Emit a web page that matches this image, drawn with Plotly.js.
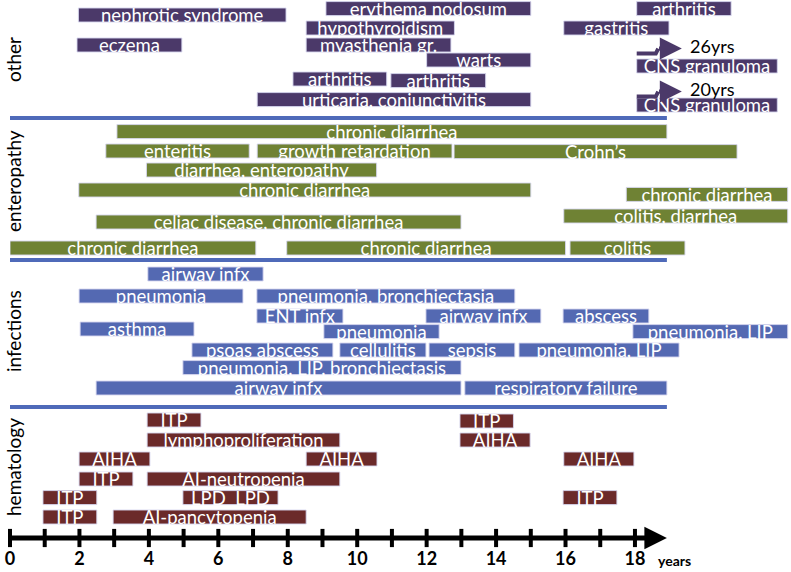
<!DOCTYPE html>
<html>
<head>
<meta charset="utf-8">
<script src="https://cdn.plot.ly/plotly-3.0.1.min.js"></script>
<style>html,body{margin:0;padding:0;background:#fff;}#chart{width:791px;height:572px;}</style>
</head>
<body>
<div id="chart"></div>
<script>
// ---------- DATA ----------
const otherLabels = ['erythema nodosum','arthritis','nephrotic syndrome','hypothyroidism','gastritis','eczema','myasthenia gr.','warts','CNS granuloma','arthritis','arthritis','urticaria, conjunctivitis','CNS granuloma'];
const otherStart  = [9.1, 18.05, 1.97, 8.53, 15.95, 1.93, 8.53, 12.0, 18.05, 8.15, 10.97, 7.12, 18.05];
const otherEnd    = [15.0, 20.77, 7.95, 12.8, 18.98, 4.95, 12.7, 15.0, 22.1, 10.85, 13.7, 15.0, 22.1];
const otherLane   = [0.43, 0.43, 0.75, 1.4, 1.4, 2.25, 2.25, 3.0, 3.3, 3.95, 4.03, 4.98, 5.25];

const enteroLabels = ['chronic diarrhea','enteritis','growth retardation','Crohn\u2019s','diarrhea, enteropathy','chronic diarrhea','chronic diarrhea','colitis, diarrhea','celiac disease, chronic diarrhea','chronic diarrhea','chronic diarrhea','colitis'];
const enteroStart  = [3.08, 2.76, 7.12, 12.79, 3.93, 1.98, 17.75, 15.95, 2.48, 0.0, 7.97, 16.13];
const enteroEnd    = [18.92, 6.89, 12.73, 20.94, 10.56, 15.0, 22.4, 22.4, 12.99, 7.08, 16.0, 19.44];
const enteroLane   = [6.58, 7.55, 7.55, 7.58, 8.5, 9.5, 9.72, 10.8, 11.1, 12.4, 12.4, 12.4];

const infLabels = ['airway infx','pneumonia','pneumonia, bronchiectasia','ENT infx','airway infx','abscess','asthma','pneumonia','pneumonia, LIP','psoas abscess','cellulitis','sepsis','pneumonia, LIP','pneumonia, LIP, bronchiectasis','airway infx','respiratory failure'];
const infStart  = [3.97, 1.99, 7.11, 7.11, 11.98, 15.93, 2.02, 9.04, 17.94, 5.24, 9.5, 12.07, 14.66, 4.98, 2.48, 13.1];
const infEnd    = [7.29, 6.71, 14.54, 9.59, 15.29, 18.4, 5.3, 12.36, 22.4, 9.3, 11.98, 14.54, 19.27, 12.99, 12.99, 18.92];
const infLane   = [13.7, 14.8, 14.8, 15.8, 15.8, 15.8, 16.45, 16.58, 16.58, 17.5, 17.5, 17.5, 17.5, 18.38, 19.4, 19.4];

const hemLabels = ['ITP','ITP','lymphoproliferation','AIHA','AIHA','AIHA','AIHA','ITP','AI-neutropenia','ITP','LPD  LPD','ITP','ITP','AI-pancytopenia'];
const hemStart  = [3.95, 12.96, 3.95, 12.96, 1.99, 8.53, 15.95, 1.99, 3.95, 0.95, 4.98, 15.93, 0.95, 2.97];
const hemEnd    = [5.5, 14.5, 9.5, 14.98, 4.03, 10.57, 17.97, 3.54, 9.5, 2.5, 7.72, 17.48, 2.5, 8.53];
const hemLane   = [21.0, 21.05, 22.0, 22.0, 22.95, 22.95, 22.95, 23.95, 23.95, 24.88, 24.88, 24.88, 25.85, 25.85];

const sectionNames = ['other','enteropathy','infections','hematology'];
const onsetNotes = ['26yrs','20yrs'];          // CNS granuloma onset notes
const tickYears = [0,1,2,3,4,5,6,7,8,9,10,11,12,13,14,15,16,17,18];
const tickLabelYears = [0,2,4,6,8,10,12,14,16,18];

// ---------- LAYOUT CONSTANTS ----------
const PX_PER_YEAR = 34.72;
const XMAX = 781 / PX_PER_YEAR;
const ROW = 20; // px per y-unit
const YMAX = 572 / ROW;
const AXIS_END = 18.92;
const AXIS_Y = 26.9;
const LABEL_Y = 28.0;
const SEP_Y = [5.9, 13.0, 20.35];
const SEC_LABEL_Y = [3.0, 9.05, 16.55, 23.35];
const FONT = 'Lato, "Open Sans", sans-serif';

const colors = {
  other: '#4b3969',
  entero: '#6f8234',
  inf: '#5469b2',
  hem: '#6b2a2a',
  sep: '#4f6ab9'
};

const traces = [];
function addSection(labels, start, end, lane, color) {
  traces.push({
    type: 'bar', orientation: 'h',
    base: start,
    x: start.map((s, i) => end[i] - s),
    y: lane,
    width: 0.7,
    marker: {color: color, line: {color: 'rgba(215,215,240,0.9)', width: 1}},
    hoverinfo: 'skip', showlegend: false
  });
  traces.push({
    type: 'scatter', mode: 'text',
    x: start.map((s, i) => (s + end[i]) / 2),
    y: lane.map(v => v + 0.14),
    text: labels,
    textposition: 'middle center',
    textfont: {family: FONT, size: 18.5, color: '#ffffff'},
    cliponaxis: false, hoverinfo: 'skip', showlegend: false
  });
}
addSection(otherLabels, otherStart, otherEnd, otherLane, colors.other);
addSection(enteroLabels, enteroStart, enteroEnd, enteroLane, colors.entero);
addSection(infLabels, infStart, infEnd, infLane, colors.inf);
addSection(hemLabels, hemStart, hemEnd, hemLane, colors.hem);

// separator lines
SEP_Y.forEach(y => {
  traces.push({type: 'scatter', mode: 'lines', x: [0, AXIS_END], y: [y, y],
    line: {color: colors.sep, width: 4}, hoverinfo: 'skip', showlegend: false});
});

// step arrows for CNS granuloma onset
const cnsIdx = otherLabels.map((l, i) => l === 'CNS granuloma' ? i : -1).filter(i => i >= 0);
const annotations = [];
cnsIdx.forEach((idx, k) => {
  const x0 = otherStart[idx];
  const yl = otherLane[idx] - (k === 0 ? 0.62 : 0.42);
  const yu = yl - 0.25;
  traces.push({type: 'scatter', mode: 'lines', x: [x0, x0 + 0.55, x0 + 0.62], y: [yl, yl, yu],
    line: {color: colors.other, width: 4}, hoverinfo: 'skip', showlegend: false});
  annotations.push({x: x0 + 1.3, y: yu, ax: x0 + 0.6, ay: yu, xref: 'x', yref: 'y', axref: 'x', ayref: 'y',
    showarrow: true, arrowhead: 2, arrowsize: 1.1, arrowwidth: 4, arrowcolor: colors.other, text: ''});
  annotations.push({x: x0 + 1.47, y: yu - 0.12, xref: 'x', yref: 'y', text: onsetNotes[k], showarrow: false,
    xanchor: 'left', yanchor: 'middle', font: {family: FONT, size: 18, color: '#000'}});
});

// time axis
annotations.push({x: AXIS_END, y: AXIS_Y, ax: 0, ay: AXIS_Y, xref: 'x', yref: 'y', axref: 'x', ayref: 'y',
  showarrow: true, arrowhead: 2, arrowsize: 0.9, arrowwidth: 5, arrowcolor: '#000', text: ''});
traces.push({type: 'scatter', mode: 'markers', x: tickYears, y: tickYears.map(() => AXIS_Y),
  marker: {symbol: 'line-ns', size: 13, line: {color: '#000', width: 4}}, hoverinfo: 'skip', showlegend: false, cliponaxis: false});
traces.push({type: 'scatter', mode: 'text', x: tickLabelYears, y: tickLabelYears.map(() => LABEL_Y),
  text: tickLabelYears.map(v => '<b>' + v + '</b>'), textposition: 'middle center',
  textfont: {family: FONT, size: 18, color: '#000'}, hoverinfo: 'skip', showlegend: false, cliponaxis: false});
annotations.push({x: tickLabelYears[tickLabelYears.length - 1] + 0.6, y: LABEL_Y, xref: 'x', yref: 'y', text: '<b>years</b>',
  showarrow: false, xanchor: 'left', yanchor: 'middle', font: {family: FONT, size: 14, color: '#000'}});

// section labels
sectionNames.forEach((n, i) => {
  annotations.push({x: 0, xref: 'paper', xshift: 3, y: SEC_LABEL_Y[i], yref: 'y', text: n, textangle: -90,
    showarrow: false, xanchor: 'center', yanchor: 'middle', font: {family: FONT, size: 19, color: '#000'}});
});

const layout = {
  width: 791, height: 572,
  margin: {l: 10, r: 0, t: 0, b: 0},
  paper_bgcolor: '#fff', plot_bgcolor: '#fff',
  barmode: 'overlay',
  showlegend: false,
  xaxis: {range: [0, XMAX], visible: false, fixedrange: true},
  yaxis: {range: [YMAX, 0], visible: false, fixedrange: true},
  annotations: annotations
};
Plotly.newPlot('chart', traces, layout, {displayModeBar: false, staticPlot: true});
</script>
</body>
</html>
